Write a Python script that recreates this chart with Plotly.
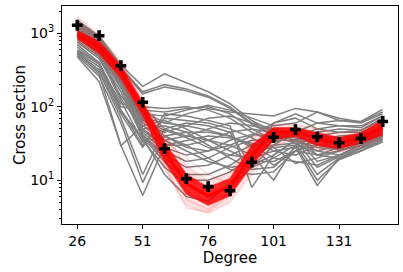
import plotly.graph_objects as go

degrees = [26, 34, 43, 51, 59, 68, 76, 84, 93, 101, 111, 121, 131, 141, 151]
observed = [1285, 927, 362, 115, 26.9, 10.5, 8.2, 7.2, 17.6, 38.4, 49, 39, 32.4, 37, 63]

red_mid = [960, 650, 305, 95, 25, 9.0, 6.1, 8.2, 22, 44, 46, 37, 32, 38, 52]
red_core_lo = [850, 540, 250, 78, 18, 6.5, 4.6, 6.2, 16, 36, 40, 30, 27, 32, 42]
red_core_hi = [1080, 770, 360, 115, 33, 12, 8.0, 10.5, 30, 52, 52, 44, 38, 44, 65]
red_outer_lo = [760, 480, 220, 65, 14, 4.5, 3.5, 5.0, 12, 30, 35, 26, 24, 28, 38]
red_outer_hi = [1700, 950, 420, 130, 45, 16, 10, 13, 38, 58, 58, 50, 43, 48, 72]
red_outliers = [
    [900, 600, 260, 80, 30, 5.5, 4.0, 7.0, 20, 40, 44, 36, 30, 35, 50],
    [1000, 700, 320, 100, 35, 20, 12, 9, 18, 35, 42, 38, 33, 37, 55],
    [880, 560, 240, 70, 16, 4.2, 3.7, 6.5, 24, 46, 50, 40, 31, 38, 58],
]

gray_lines = [
    [1500, 920, 370, 190, 280, 210, 160, 110, 65, 45, 38, 30, 26, 30, 40],
    [1450, 880, 340, 160, 200, 175, 140, 100, 60, 42, 35, 25, 22, 27, 36],
    [1400, 860, 330, 150, 185, 165, 135, 95, 58, 40, 32, 22, 20, 25, 33],
    [1350, 850, 320, 100, 95, 100, 90, 70, 45, 33, 40, 50, 55, 55, 75],
    [1300, 820, 300, 90, 85, 95, 100, 80, 50, 35, 45, 60, 65, 63, 92],
    [1250, 800, 300, 80, 75, 90, 105, 90, 70, 55, 60, 85, 70, 62, 85],
    [1200, 760, 280, 70, 60, 80, 95, 85, 80, 75, 95, 85, 65, 60, 80],
    [1150, 720, 260, 60, 45, 55, 70, 75, 60, 50, 45, 40, 38, 40, 55],
    [1100, 700, 250, 55, 35, 40, 50, 60, 55, 48, 42, 30, 28, 35, 50],
    [1050, 680, 240, 50, 30, 30, 35, 45, 50, 45, 40, 22, 25, 32, 48],
    [1000, 650, 230, 48, 28, 22, 25, 35, 42, 40, 38, 18, 22, 30, 45],
    [950, 600, 210, 45, 25, 18, 20, 28, 35, 35, 35, 15, 21, 28, 42],
    [900, 560, 200, 42, 22, 15, 16, 22, 30, 30, 32, 12, 20, 27, 40],
    [850, 520, 180, 40, 20, 12, 12, 16, 25, 28, 30, 10, 19, 25, 38],
    [800, 480, 160, 38, 18, 10, 10, 13, 20, 25, 28, 8.5, 20, 25, 35],
    [600, 400, 110, 100, 50, 40, 35, 30, 22, 10, 30, 40, 45, 45, 60],
    [580, 380, 100, 90, 60, 55, 48, 40, 28, 16, 25, 35, 40, 42, 55],
    [560, 350, 90, 30, 70, 65, 60, 50, 38, 25, 22, 30, 35, 38, 50],
    [540, 320, 80, 28, 80, 75, 65, 55, 8, 22, 35, 45, 50, 48, 65],
    [520, 300, 70, 12, 50, 60, 55, 45, 15, 20, 30, 25, 30, 35, 45],
    [500, 260, 60, 9.3, 40, 45, 45, 40, 30, 20, 18, 16, 22, 30, 42],
    [480, 220, 30, 6.2, 30, 35, 40, 38, 32, 28, 17, 20, 25, 30, 40],
    [550, 280, 29.6, 55, 65, 50, 35, 25, 18, 18, 25, 22, 28, 32, 45],
    [1000, 600, 130, 50, 55, 45, 30, 20, 14, 15, 28, 35, 38, 40, 50],
    [900, 500, 120, 33, 40, 30, 20, 14, 12, 13, 25, 30, 32, 36, 48],
    [700, 400, 90, 35, 15, 9, 6, 8, 15, 30, 45, 35, 30, 35, 45],
    [650, 380, 85, 38, 12, 6, 5.2, 9, 20, 35, 50, 42, 35, 38, 52],
    [1100, 650, 180, 70, 35, 25, 18, 15, 16, 22, 35, 28, 26, 30, 42],
    [1200, 700, 220, 75, 40, 28, 25, 30, 40, 60, 70, 50, 45, 48, 70],
    [750, 450, 140, 65, 48, 38, 28, 22, 20, 60, 80, 60, 55, 52, 75],
]

tick_every = 3
x = list(range(len(degrees)))
tick_idx = x[::tick_every][:5]
tick_text = [str(degrees[i]) for i in tick_idx]

fig = go.Figure()
for g in gray_lines:
    fig.add_trace(go.Scatter(x=x, y=g, mode="lines",
                             line=dict(color="#808080", width=1.5),
                             showlegend=False, hoverinfo="skip"))

fig.add_trace(go.Scatter(x=x, y=red_outer_lo, mode="lines",
                         line=dict(color="rgba(255,0,0,0.15)", width=1),
                         showlegend=False, hoverinfo="skip"))
fig.add_trace(go.Scatter(x=x, y=red_outer_hi, mode="lines", fill="tonexty",
                         fillcolor="rgba(255,0,0,0.12)",
                         line=dict(color="rgba(255,0,0,0.15)", width=1),
                         showlegend=False, hoverinfo="skip"))
for r in red_outliers:
    fig.add_trace(go.Scatter(x=x, y=r, mode="lines",
                             line=dict(color="rgba(255,0,0,0.18)", width=1.2),
                             showlegend=False, hoverinfo="skip"))
fig.add_trace(go.Scatter(x=x, y=red_core_lo, mode="lines",
                         line=dict(color="rgba(255,0,0,0.6)", width=1.5),
                         showlegend=False, hoverinfo="skip"))
fig.add_trace(go.Scatter(x=x, y=red_core_hi, mode="lines", fill="tonexty",
                         fillcolor="rgba(255,0,0,0.85)",
                         line=dict(color="rgba(255,0,0,0.6)", width=1.5),
                         showlegend=False, hoverinfo="skip"))
fig.add_trace(go.Scatter(x=x, y=red_mid, mode="lines",
                         line=dict(color="rgb(255,0,0)", width=3),
                         showlegend=False, hoverinfo="skip"))

fig.add_trace(go.Scatter(x=x, y=observed, mode="markers",
                         marker=dict(symbol="cross", size=9, color="black",
                                     line=dict(width=0)),
                         showlegend=False))

minor_vals = [m * 10 ** e for e in range(0, 4) for m in range(2, 10)]

fig.update_layout(
    width=403, height=272,
    margin=dict(l=62, r=5, t=6, b=48),
    plot_bgcolor="white", paper_bgcolor="white",
    font=dict(family="DejaVu Sans", size=14, color="black"),
    xaxis=dict(range=[-0.7, 14.7], tickvals=tick_idx, ticktext=tick_text,
               showgrid=False, zeroline=False, showline=True, mirror=True,
               linecolor="black", linewidth=1, ticks="outside", ticklen=4,
               tickcolor="black", automargin=False,
               title=dict(text="Degree", standoff=0, font=dict(size=15)),
               tickfont=dict(size=14)),
    yaxis=dict(type="log", range=[0.405, 3.371],
               tickvals=[10, 100, 1000],
               ticktext=["10<sup>1</sup>", "10<sup>2</sup>", "10<sup>3</sup>"],
               showgrid=False, zeroline=False, showline=True, mirror=True,
               linecolor="black", linewidth=1, ticks="outside", ticklen=4,
               tickcolor="black", automargin=False,
               title=dict(text="Cross section", standoff=0, font=dict(size=15)),
               tickfont=dict(size=14),
               minor=dict(tickvals=minor_vals, ticks="outside", ticklen=2,
                          tickcolor="black", showgrid=False)),
)

fig.write_html("out.html", config={"displayModeBar": False},
               post_script="document.body.style.margin='0';document.body.style.overflow='hidden';")
